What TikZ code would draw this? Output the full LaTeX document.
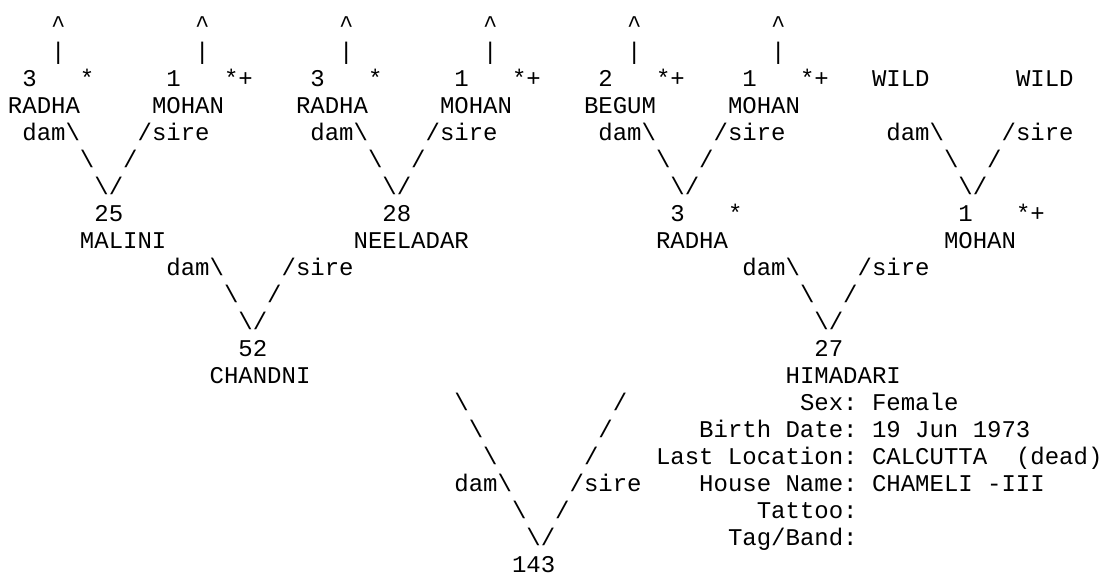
\documentclass[tikz,border=0pt]{standalone}
\usepackage{fontspec}
\setmonofont{Liberation Mono}
\tikzset{txt/.style={anchor=base west,inner sep=0pt,outer sep=0pt,text=black,
  font=\ttfamily\fontsize{24pt}{27pt}\selectfont}}
% each character is set in a cell 14.4pt wide, as in the reference's Courier
\def\cellstr#1{\cellstri#1\relax}
\def\cellstri#1{\ifx#1\relax\else\makebox[14.4pt][c]{#1}\expandafter\cellstri\fi}
\newcommand\T[4]{\node[txt] (#1) at ({8pt+#2*14.4pt},{-32.7pt-(#3-1)*27pt}) {\cellstr{#4}};}
\newcommand\bs{\textbackslash}
\newcommand\up{\textasciicircum}
\newcommand\vbar{\textbar}
\begin{document}
\begin{tikzpicture}
\useasboundingbox (0,0) rectangle (1103pt,-579pt);
\fill[white] (0,0) rectangle (1103pt,-579pt);
% line 1 and 2: carets and bars
\T{ca}{3}{1}{\up}
\T{cb}{13}{1}{\up}
\T{cc}{23}{1}{\up}
\T{cd}{33}{1}{\up}
\T{ce}{43}{1}{\up}
\T{cf}{53}{1}{\up}
\T{pa}{3}{2}{\vbar}
\T{pb}{13}{2}{\vbar}
\T{pc}{23}{2}{\vbar}
\T{pd}{33}{2}{\vbar}
\T{pe}{43}{2}{\vbar}
\T{pf}{53}{2}{\vbar}
% line 3: numbers and flags
\T{na}{1}{3}{3}
\T{fa}{5}{3}{*}
\T{nb}{11}{3}{1}
\T{fb}{15}{3}{*+}
\T{nc}{21}{3}{3}
\T{fc}{25}{3}{*}
\T{nd}{31}{3}{1}
\T{fd}{35}{3}{*+}
\T{ne}{41}{3}{2}
\T{fe}{45}{3}{*+}
\T{nf}{51}{3}{1}
\T{ff}{55}{3}{*+}
\T{wa}{60}{3}{WILD}
\T{wb}{70}{3}{WILD}
% line 4: names
\T{ga}{0}{4}{RADHA}
\T{gb}{10}{4}{MOHAN}
\T{gc}{20}{4}{RADHA}
\T{gd}{30}{4}{MOHAN}
\T{ge}{40}{4}{BEGUM}
\T{gf}{50}{4}{MOHAN}
% line 5
\T{da}{1}{5}{dam\bs}
\T{sa}{9}{5}{/sire}
\T{db}{21}{5}{dam\bs}
\T{sb}{29}{5}{/sire}
\T{dc}{41}{5}{dam\bs}
\T{sc}{49}{5}{/sire}
\T{dd}{61}{5}{dam\bs}
\T{sd}{69}{5}{/sire}
% line 6
\T{la}{5}{6}{\bs}
\T{ra}{8}{6}{/}
\T{lb}{25}{6}{\bs}
\T{rb}{28}{6}{/}
\T{lc}{45}{6}{\bs}
\T{rc}{48}{6}{/}
\T{ld}{65}{6}{\bs}
\T{rd}{68}{6}{/}
% line 7
\T{va}{6}{7}{\bs/}
\T{vb}{26}{7}{\bs/}
\T{vc}{46}{7}{\bs/}
\T{vd}{66}{7}{\bs/}
% line 8
\T{mna}{6}{8}{25}
\T{mnb}{26}{8}{28}
\T{mnc}{46}{8}{3}
\T{mfc}{50}{8}{*}
\T{mnd}{66}{8}{1}
\T{mfd}{70}{8}{*+}
% line 9
\T{ma}{5}{9}{MALINI}
\T{mb}{24}{9}{NEELADAR}
\T{mc}{45}{9}{RADHA}
\T{md}{65}{9}{MOHAN}
% line 10
\T{pda}{11}{10}{dam\bs}
\T{psa}{19}{10}{/sire}
\T{pdb}{51}{10}{dam\bs}
\T{psb}{59}{10}{/sire}
% line 11
\T{pla}{15}{11}{\bs}
\T{pra}{18}{11}{/}
\T{plb}{55}{11}{\bs}
\T{prb}{58}{11}{/}
% line 12
\T{pva}{16}{12}{\bs/}
\T{pvb}{56}{12}{\bs/}
% line 13
\T{pna}{16}{13}{52}
\T{pnb}{56}{13}{27}
% line 14
\T{chandni}{14}{14}{CHANDNI}
\T{himadari}{54}{14}{HIMADARI}
% lines 15-21: bottom V and details
\T{bl1}{31}{15}{\bs}
\T{br1}{42}{15}{/}
\T{sexl}{55}{15}{Sex:}
\T{sexv}{60}{15}{Female}
\T{bl2}{32}{16}{\bs}
\T{br2}{41}{16}{/}
\T{birthl}{48}{16}{Birth~Date:}
\T{birthv}{60}{16}{19~Jun~1973}
\T{bl3}{33}{17}{\bs}
\T{br3}{40}{17}{/}
\T{locl}{45}{17}{Last~Location:}
\T{locv}{60}{17}{CALCUTTA}
\T{locd}{70}{17}{(dead)}
\T{bdam}{31}{18}{dam\bs}
\T{bsire}{39}{18}{/sire}
\T{housel}{48}{18}{House~Name:}
\T{housev}{60}{18}{CHAMELI~-III}
\T{bl5}{35}{19}{\bs}
\T{br5}{38}{19}{/}
\T{tattoo}{52}{19}{Tattoo:}
\T{bv}{36}{20}{\bs/}
\T{tag}{50}{20}{Tag/Band:}
\T{root}{35}{21}{143}
\end{tikzpicture}
\end{document}
